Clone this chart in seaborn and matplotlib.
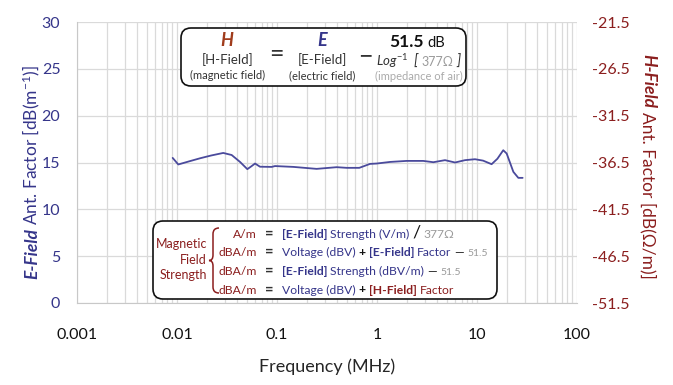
import matplotlib
matplotlib.use("Agg")
import numpy as np
import seaborn as sns
from matplotlib import pyplot as plt
from matplotlib.transforms import IdentityTransform
from matplotlib.patches import FancyBboxPatch, PathPatch
from matplotlib.path import Path

# Antenna factor curve
freq_mhz = [0.00905, 0.0103, 0.0135, 0.017, 0.022, 0.029, 0.0352, 0.0427, 0.0505,
            0.0555, 0.0603, 0.0676, 0.0885, 0.0955, 0.146, 0.249, 0.395, 0.498,
            0.665, 0.851, 0.993, 1.35, 1.98, 2.9, 3.66, 4.79, 6.03, 7.59, 9.55,
            11.5, 14.0, 16.0, 18.3, 19.8, 23.1, 25.9, 28.6]
e_factor = [15.49, 14.79, 15.15, 15.45, 15.75, 16.02, 15.8, 15.06, 14.29,
            14.6, 14.89, 14.55, 14.53, 14.62, 14.53, 14.32, 14.5, 14.43,
            14.43, 14.85, 14.89, 15.06, 15.17, 15.17, 15.03, 15.25, 15.0, 15.25, 15.35,
            15.2, 14.82, 15.4, 16.31, 15.96, 14.0, 13.36, 13.36]

x_ticks = [0.001, 0.01, 0.1, 1, 10, 100]
x_labels = ["0.001", "0.01", "0.1", "1", "10", "100"]
e_ticks = [0, 5, 10, 15, 20, 25, 30]
h_ticks = [-51.5, -46.5, -41.5, -36.5, -31.5, -26.5, -21.5]
air_db = 51.5

NAVY = "#35358a"
RED = "#8b1e1e"
HRED = "#a03c1c"
GREY = "#9a9a9a"
DARK = "#333333"
LINE = "#4a4a9c"
GRID = "#dadada"

sns.set_style("white")
plt.rcParams["font.family"] = ["Lato", "DejaVu Sans"]
plt.rcParams["mathtext.fontset"] = "custom"
plt.rcParams["mathtext.rm"] = "Lato"
plt.rcParams["mathtext.it"] = "Lato:italic"
plt.rcParams["mathtext.bf"] = "Lato:bold"

W, H = 673, 385
fig = plt.figure(figsize=(W / 100, H / 100), dpi=100)
ax = fig.add_axes([77 / W, 82 / H, 500 / W, 281 / H])

sns.lineplot(x=freq_mhz, y=e_factor, ax=ax, color=LINE, linewidth=1.3)
ax.set_xscale("log")
ax.set_xlim(1e-3, 1e2)
ax.set_ylim(0, 30)
ax.set_xticks(x_ticks)
ax.set_xticklabels(x_labels)
ax.set_yticks(e_ticks)
ax.grid(which="both", axis="x", color=GRID, lw=0.9)
ax.grid(which="major", axis="y", color=GRID, lw=0.9)
ax.tick_params(axis="x", which="both", length=0, pad=18, labelsize=11.5, labelcolor="#111111")
ax.tick_params(axis="y", length=0, pad=12, labelsize=11.5, labelcolor=NAVY)
for s in ["top", "right"]:
    ax.spines[s].set_visible(False)
for s in ["left", "bottom"]:
    ax.spines[s].set_color("#c8c8c8")
ax.set_xlabel("Frequency (MHz)", fontsize=13, labelpad=12)
ax.set_ylabel("")

ax2 = ax.twinx()
ax2.set_ylim(-air_db, 30 - air_db)
ax2.set_yticks(h_ticks)
ax2.set_yticklabels([str(v) for v in h_ticks])
ax2.tick_params(axis="y", length=0, pad=11, labelsize=11.5, labelcolor=RED)
for s in ax2.spines.values():
    s.set_visible(False)

renderer = fig.canvas.get_renderer()


def put(x, y, s, **kw):
    return fig.text(x, H - y, s, transform=IdentityTransform(), **kw)


def rich(x, y, pieces, align="left", rotation=0, gap=3):
    # pieces share one baseline; x, y are image pixels (y from top)
    arts, sizes = [], []
    for p in pieces:
        s, kw = p[0], dict(p[1])
        g = kw.pop("gap", gap)
        t = put(0, y, s, ha="left", va="baseline", rotation=rotation,
                rotation_mode="anchor", **kw)
        bb = t.get_window_extent(renderer)
        arts.append((t, g))
        sizes.append(bb.width if rotation == 0 else bb.height)
    total = sum(sizes) + sum(g for _, g in arts[:-1])
    if align == "center":
        pos = -total / 2
    elif align == "right":
        pos = -total
    else:
        pos = 0
    for (t, g), sz in zip(arts, sizes):
        if rotation == 0:
            t.set_position((x + pos, H - y))
        elif rotation == 90:
            t.set_position((x, H - y + pos))
        else:
            t.set_position((x, H - y - pos))
        pos += sz + g


# axis titles with mixed styles
rich(37, 172, [("E-Field", dict(color=NAVY, fontsize=12.5, weight="bold", style="italic")),
               ("Ant. Factor [dB(m$^{-1}$)]", dict(color=NAVY, fontsize=12.5))],
     align="center", rotation=90, gap=4)
rich(643, 166, [("H-Field", dict(color=RED, fontsize=12.5, weight="bold", style="italic")),
                ("Ant. Factor [dB(\u03a9/m)]", dict(color=RED, fontsize=12.5))],
     align="center", rotation=-90, gap=4)

# top formula box
fig.add_artist(FancyBboxPatch((181, H - 86), 285, 58, boxstyle="round,pad=0,rounding_size=10",
                              transform=IdentityTransform(), facecolor="white",
                              edgecolor="#111111", lw=1.2, zorder=2))
bi = dict(weight="bold", style="italic", fontsize=13)
rich(227, 46, [("H", dict(color=HRED, **bi))], align="center")
rich(228, 64, [("[H-Field]", dict(color=DARK, fontsize=9.5))], align="center")
rich(228, 79, [("(magnetic field)", dict(color=DARK, fontsize=8))], align="center")
rich(276, 62, [("=", dict(color=DARK, fontsize=18))], align="center")
rich(322, 46, [("E", dict(color=NAVY, **bi))], align="center")
rich(322.5, 64, [("[E-Field]", dict(color=DARK, fontsize=9.5))], align="center")
rich(322.5, 79, [("(electric field)", dict(color=DARK, fontsize=8))], align="center")
rich(365, 63, [("\u2212", dict(color=DARK, fontsize=18))], align="center")
rich(417, 47, [("51.5", dict(color="#111111", fontsize=12.5, weight="bold")),
               ("dB", dict(color="#111111", fontsize=10.5))], align="center")
rich(418, 66, [(r"$\mathit{Log}^{-1}$", dict(color=DARK, fontsize=9.5, gap=6)),
               ("[", dict(color=DARK, fontsize=10.5, style="italic", gap=3)),
               ("377\u03a9", dict(color=GREY, fontsize=9, gap=3)),
               ("]", dict(color=DARK, fontsize=10.5, style="italic"))], align="center")
rich(419, 80, [("(impedance of air)", dict(color="#aaaaaa", fontsize=8))], align="center")

# bottom definitions box
fig.add_artist(FancyBboxPatch((153, H - 299), 344, 78, boxstyle="round,pad=0,rounding_size=10",
                              transform=IdentityTransform(), facecolor="white",
                              edgecolor="#111111", lw=1.2, zorder=2))
fs = 8.7
for txt, yb in [("Magnetic", 248), ("Field", 263.5), ("Strength", 279)]:
    rich(207, yb, [(txt, dict(color=RED, fontsize=9))], align="right")

brace = Path([(219, H - 228), (213, H - 228), (213, H - 234), (213, H - 255),
              (213, H - 260.5), (209, H - 260.5), (213, H - 260.5), (213, H - 266),
              (213, H - 287), (213, H - 293), (219, H - 293)],
             [Path.MOVETO, Path.CURVE3, Path.CURVE3, Path.LINETO,
              Path.CURVE3, Path.CURVE3, Path.CURVE3, Path.CURVE3,
              Path.LINETO, Path.CURVE3, Path.CURVE3])
fig.add_artist(PathPatch(brace, transform=IdentityTransform(), fill=False,
                         edgecolor=RED, lw=1.1, zorder=3))

nb = dict(color=NAVY, fontsize=fs, weight="bold")
nr = dict(color=NAVY, fontsize=fs)
plus = dict(color="#111111", fontsize=fs, weight="bold")
dash = dict(color="#111111", fontsize=fs)
gnum = dict(color=GREY, fontsize=7.5)
rows = [
    ("A/m", 237.5, [("[E-Field]", nb), ("Strength (V/m)", nr),
                    ("/", dict(color="#111111", fontsize=13)), ("377\u03a9", dict(color=GREY, fontsize=fs))]),
    ("dBA/m", 256, [("Voltage (dBV)", nr), ("+", plus), ("[E-Field]", nb), ("Factor", nr),
                    ("\u2014", dash), ("51.5", gnum)]),
    ("dBA/m", 275, [("[E-Field]", nb), ("Strength (dBV/m)", nr), ("\u2014", dash), ("51.5", gnum)]),
    ("dBA/m", 293.5, [("Voltage (dBV)", nr), ("+", plus), ("[H-Field]", dict(color=RED, fontsize=fs, weight="bold")),
                      ("Factor", dict(color=RED, fontsize=fs))]),
]
for unit, yb, pieces in rows:
    rich(257, yb, [(unit, dict(color=RED, fontsize=fs))], align="right")
    rich(269, yb, [("=", dict(color=DARK, fontsize=10.5, weight="bold"))], align="center")
    rich(282, yb, pieces, gap=3)

fig.savefig("out.png", dpi=100)
